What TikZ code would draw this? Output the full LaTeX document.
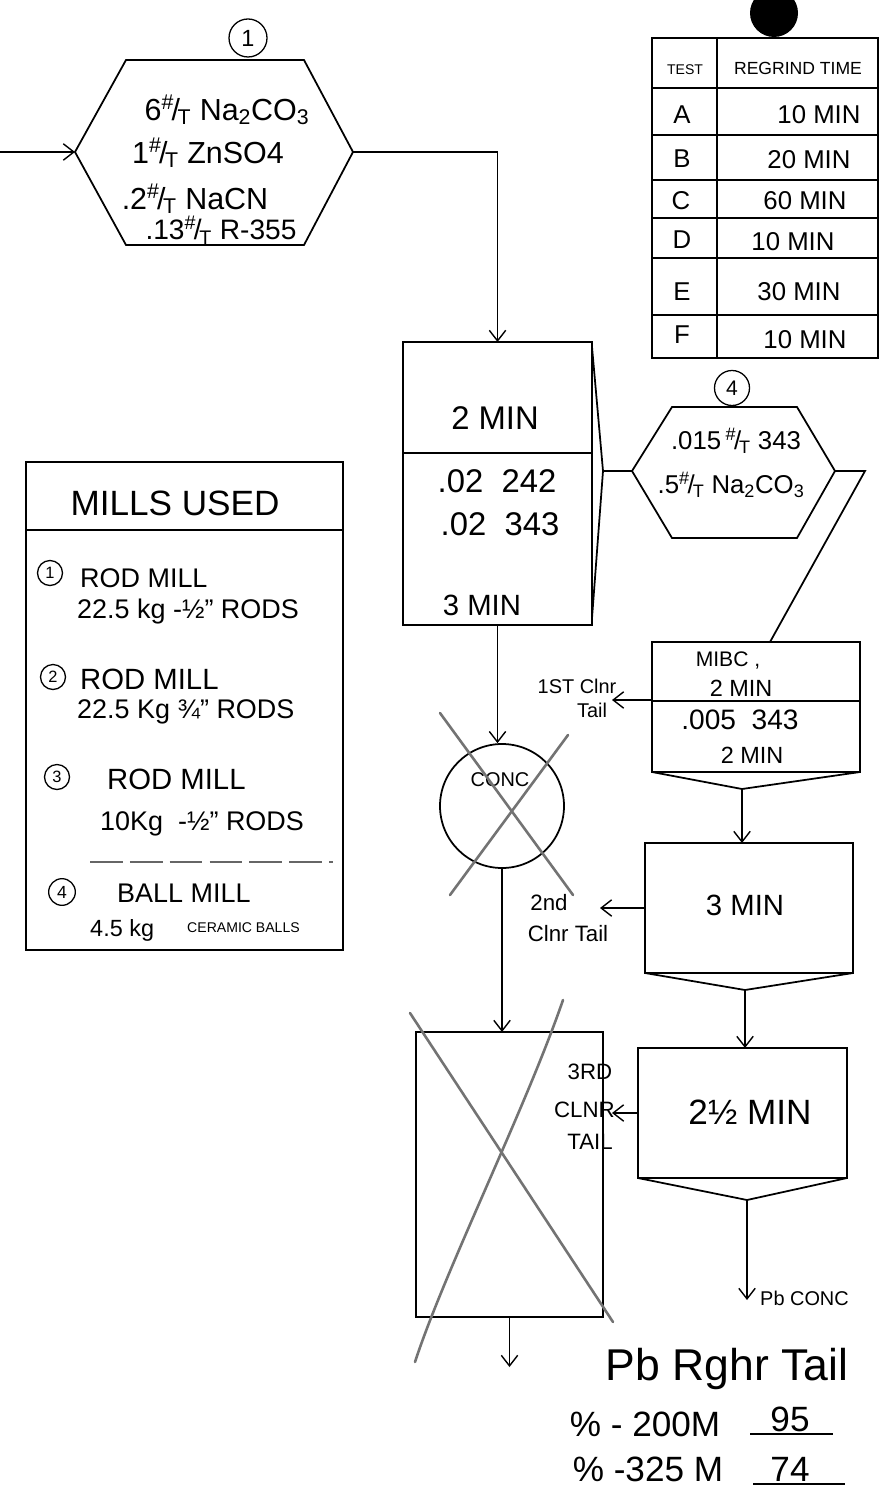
\documentclass[tikz,border=0pt]{standalone}
\usepackage{fontspec}
\setmainfont{Liberation Sans}
\usetikzlibrary{arrows.meta,calc}
\newcommand\fsz[1]{\fontsize{#1}{#1}\selectfont}
\newcommand\perton{\textsuperscript{\#}\kern-0.08em/\kern-0.08em\textsubscript{T}}
\begin{document}
\begin{tikzpicture}[x=0.03cm,y=-0.03cm,
  ln/.style={line width=1.5pt},
  arr/.style={line width=1.2pt,-{Straight Barb[length=9pt,width=14pt,line width=1.2pt]}},
  txt/.style={inner sep=0pt},
  boxn/.style={draw, line width=1.5pt, inner sep=0pt, outer sep=0pt},
  num/.style={draw, circle, line width=1.1pt, inner sep=0pt},
  cross/.style={line width=2.2pt, black!55, line cap=round},
]
\useasboundingbox (0,0) rectangle (880,1497);
\clip (0,0) rectangle (880,1497);
\fill[white] (0,0) rectangle (880,1497);

% punch hole
\node[fill=black, circle, minimum size=1.44cm, inner sep=0pt] (hole) at (774,13) {};

% ---------- hexagon 1 ----------
\coordinate (h1w) at (75,152);
\coordinate (h1e) at (353,152);
\draw[ln] (h1w) -- (126,60) -- (304,60) -- (h1e) -- (304,245) -- (126,245) -- cycle;
\node[num, minimum size=1.14cm, font=\fsz{20}] (n1) at (248,38) {1};
\node[txt, font=\fsz{26}] (h1a) at (227,110) {6\perton\ Na\textsubscript{2}CO\textsubscript{3}};
\node[txt, font=\fsz{26}] (h1b) at (208,153) {1\perton\ ZnSO4};
\node[txt, font=\fsz{26}] (h1c) at (195,199) {.2\perton\ NaCN};
\node[txt, font=\fsz{24}] (h1d) at (221,230) {.13\perton\ R-355};
\coordinate (inp) at (0,152);
\draw[arr] (inp) -- (h1w);

% ---------- table ----------
\draw[ln] (652,38) rectangle (878,358);
\draw[ln] (717,38) -- (717,358);
\foreach \yy in {88,135,180,218,258,315} \draw[ln] (652,\yy) -- (878,\yy);
\node[txt, font=\fsz{12}] (thA) at (685,70) {TEST};
\node[txt, font=\fsz{15}] (thB) at (798,68) {REGRIND TIME};
\node[txt, font=\fsz{22}] (tA) at (682,115) {A};
\node[txt, font=\fsz{22}] (tB) at (682,159) {B};
\node[txt, font=\fsz{22}] (tC) at (681,201) {C};
\node[txt, font=\fsz{22}] (tD) at (682,240) {D};
\node[txt, font=\fsz{22}] (tE) at (682,292) {E};
\node[txt, font=\fsz{22}] (tF) at (682,335) {F};
\node[txt, font=\fsz{22}] (vA) at (819,115) {10 MIN};
\node[txt, font=\fsz{22}] (vB) at (809,160) {20 MIN};
\node[txt, font=\fsz{22}] (vC) at (805,201) {60 MIN};
\node[txt, font=\fsz{22}] (vD) at (793,242) {10 MIN};
\node[txt, font=\fsz{22}] (vE) at (799,292) {30 MIN};
\node[txt, font=\fsz{22}] (vF) at (805,340) {10 MIN};

% ---------- rougher box ----------
\node[boxn, minimum width=5.67cm, minimum height=8.49cm] (r1) at (497.5,483.5) {};
\draw[ln] (403,453) -- (592,453);
\coordinate (r1tip) at (603,471);
\draw[ln] (592,347) -- (r1tip) -- (592,618);
\node[txt, font=\fsz{28}] (r1a) at (495,418) {2 MIN};
\node[txt, font=\fsz{28}] (r1b) at (497,481) {.02\ \ 242};
\node[txt, font=\fsz{28}] (r1c) at (500,524) {.02\ \ 343};
\node[txt, font=\fsz{25}] (r1d) at (482,605) {3 MIN};
\draw[arr] (h1e) -| (r1.north);

% ---------- hexagon 4 ----------
\coordinate (h4w) at (632,471);
\coordinate (h4e) at (835,471);
\draw[ln] (h4w) -- (672,407) -- (797,407) -- (h4e) -- (797,538) -- (672,538) -- cycle;
\node[num, minimum size=1.05cm, font=\fsz{18}] (n4) at (732,388) {4};
\node[txt, font=\fsz{22}] (h4a) at (736,441) {.015\,\perton\ 343};
\node[txt, font=\fsz{22}] (h4b) at (731,485) {.5\perton\ Na\textsubscript{2}CO\textsubscript{3}};
\draw[ln] (r1tip) -- (h4w);

% ---------- 1st cleaner ----------
\node[boxn, minimum width=6.24cm, minimum height=3.9cm] (m) at (756,707) {};
\draw[ln] (652,701) -- (860,701);
\coordinate (mtip) at (742,789);
\draw[ln] (652,772) -- (mtip) -- (860,772);
\coordinate (bend4) at (865,471);
\coordinate (mtop) at (770,642);
\draw[ln] (h4e) -- (bend4) -- (mtop);
\node[txt, font=\fsz{18}] (ma) at (728,660) {MIBC ,};
\node[txt, font=\fsz{20}] (mb) at (741,688) {2 MIN};
\node[txt, font=\fsz{24}] (mc) at (740,720) {.005\ \ 343};
\node[txt, font=\fsz{20}] (md) at (752,755) {2 MIN};
\coordinate (mL) at (652,700);
\coordinate (t1) at (612,700);
\draw[arr] (mL) -- (t1);
\node[txt, font=\fsz{17}] (t1a) at (577,686) {1ST Clnr};
\node[txt, font=\fsz{17}] (t1b) at (592,710) {Tail};

% ---------- conc circle ----------
\node[draw, circle, ln, minimum size=3.72cm, inner sep=0pt] (c) at (502,806) {};
\node[txt, font=\fsz{17}] (cl) at (500,780) {CONC};
\draw[arr] (r1.south) -- (r1.south |- c.north);
\draw[cross] (440,713) -- (573,895);
\draw[cross] (568,735) -- (450,895);

% ---------- 2nd cleaner ----------
\node[boxn, minimum width=6.24cm, minimum height=3.9cm] (b3) at (749,908) {};
\coordinate (b3tip) at (745,990);
\draw[ln] (645,973) -- (b3tip) -- (853,973);
\node[txt, font=\fsz{25}] (b3a) at (745,905) {3 MIN};
\draw[arr] (mtip) -- (mtip |- b3.north);
\coordinate (t2) at (600,908);
\draw[arr] (b3.west) -- (t2);
\node[txt, font=\fsz{19}] (t2a) at (549,903) {2nd};
\node[txt, font=\fsz{19}] (t2b) at (568,934) {Clnr Tail};

% ---------- 3rd cleaner ----------
\node[boxn, minimum width=6.27cm, minimum height=3.9cm] (b25) at (742.5,1113) {};
\coordinate (b25tip) at (747,1200);
\draw[ln] (638,1178) -- (b25tip) -- (847,1178);
\node[txt, font=\fsz{30}] (b25a) at (750,1112) {2½ MIN};
\draw[arr] (b3tip) -- (b3tip |- b25.north);
\coordinate (t3) at (612,1113);
\draw[arr] (b25.west) -- (t3);
\node[txt, font=\fsz{19}] (t3a) at (590,1072) {3RD};
\node[txt, font=\fsz{19}, anchor=east] (t3b) at (615,1110) {CLNR};
\node[txt, font=\fsz{19}] (t3c) at (590,1142) {TAIL};
\coordinate (pbc) at (747,1300);
\draw[arr] (b25tip) -- (pbc);
\node[txt, font=\fsz{17}, anchor=west] (pbcl) at (760,1298) {Pb CONC};

% ---------- crossed rectangle ----------
\node[boxn, minimum width=5.61cm, minimum height=8.55cm] (R) at (509.5,1174.5) {};
\draw[arr] (c.south) -- (c.south |- R.north);
\draw[cross] (410,1013) -- (613,1322);
\draw[cross] (563,1000) .. controls (525,1110) and (445,1270) .. (415,1362);
\coordinate (Rout) at ($(R.south)+(0,50)$);
\draw[arr] (R.south) -- (Rout);

% ---------- rougher tail text ----------
\node[txt, font=\fsz{38}, anchor=base] (rt) at (727,1380) {Pb Rghr Tail};
\node[txt, font=\fsz{30}, anchor=base] (rt1) at (645,1436) {\% - 200M};
\node[txt, font=\fsz{30}, anchor=base] (rt1v) at (790,1431) {95};
\draw[line width=1.3pt] (750,1434) -- (833,1434);
\node[txt, font=\fsz{30}, anchor=base] (rt2) at (648,1481) {\% -325 M};
\node[txt, font=\fsz{30}, anchor=base] (rt2v) at (790,1481) {74};
\draw[line width=1.3pt] (753,1484) -- (845,1484);

% ---------- mills used ----------
\draw[ln] (26,462) rectangle (343,950);
\draw[ln] (26,530) -- (343,530);
\draw[line width=1.2pt, black!60, dash pattern=on 28pt off 6pt] (90,862) -- (333,862);
\node[txt, font=\fsz{30}] (mt) at (175,503) {MILLS USED};
\node[num, minimum size=0.75cm, font=\fsz{14}] (mc1) at (50,573) {1};
\node[txt, font=\fsz{23}, anchor=west] (ml1) at (80,578) {ROD MILL};
\node[txt, font=\fsz{23}, anchor=west] (ml1b) at (77,612) {22.5 kg -½" RODS};
\node[num, minimum size=0.75cm, font=\fsz{14}] (mc2) at (53,677) {2};
\node[txt, font=\fsz{25}, anchor=west] (ml2) at (80,679) {ROD MILL};
\node[txt, font=\fsz{23}, anchor=west] (ml2b) at (77,712) {22.5 Kg ¾" RODS};
\node[num, minimum size=0.75cm, font=\fsz{14}] (mc3) at (57,777) {3};
\node[txt, font=\fsz{25}, anchor=west] (ml3) at (107,779) {ROD MILL};
\node[txt, font=\fsz{23}, anchor=west] (ml3b) at (100,824) {10Kg\ \ -½" RODS};
\node[num, minimum size=0.8cm, font=\fsz{15}] (mc4) at (62,892) {4};
\node[txt, font=\fsz{23}, anchor=west] (ml4) at (117,893) {BALL MILL};
\node[txt, font=\fsz{20}, anchor=west] (ml4b) at (90,930) {4.5 kg};
\node[txt, font=\fsz{12}, anchor=west] (ml4c) at (187,928) {CERAMIC BALLS};
\end{tikzpicture}
\end{document}
